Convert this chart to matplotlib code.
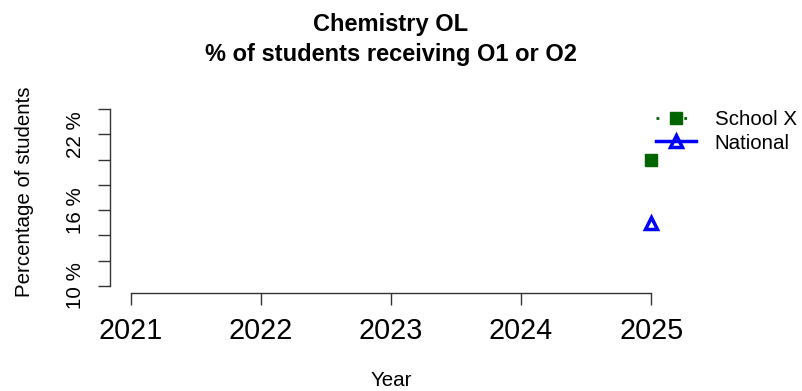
import matplotlib
matplotlib.use("Agg")
import matplotlib.pyplot as plt

plt.rcParams['font.family'] = ['Liberation Sans', 'DejaVu Sans']

years = [2021, 2022, 2023, 2024, 2025]
school_years = [2025]
school_values = [20.0]
national_years = [2025]
national_values = [15.0]
y_ticks = [10, 12, 14, 16, 18, 20, 22, 24]
y_ticklabels = ["10 %", "", "", "16 %", "", "", "22 %", ""]

fig = plt.figure(figsize=(8.03, 3.91), dpi=100)
ax = fig.add_axes([110/803, 1-293/391, (672-110)/803, (293-102)/391])

green = "#006400"
blue = "#0000FF"
ls, = ax.plot(school_years, school_values, linestyle=(0, (1, 4)), color=green, marker="s",
              markersize=8.5, lw=2, label="School X")
ln, = ax.plot(national_years, national_values, linestyle="-", color=blue, marker="^",
              markersize=9, markerfacecolor="none", markeredgewidth=2.5, lw=2.5, label="National")

ax.set_xlim(2021 - 0.16, 2025 + 0.16)
ax.set_ylim(10 - 0.56, 24 + 0.56)
for s in ["top", "right"]:
    ax.spines[s].set_visible(False)
ax.spines["left"].set_bounds(10, 24)
ax.spines["bottom"].set_bounds(2021, 2025)
for s in ["left", "bottom"]:
    ax.spines[s].set_color("#333333")
    ax.spines[s].set_linewidth(1.0)

ax.set_xticks(years)
ax.set_xticklabels([str(y) for y in years], fontsize=20.7)
ax.set_yticks(y_ticks)
ax.set_yticklabels(y_ticklabels, fontsize=14.8, rotation=90, va="center")
ax.tick_params(axis="x", length=8.8, width=1.0, color="#333333", pad=8.3)
ax.tick_params(axis="y", length=8.8, width=1.0, color="#333333", pad=9)

fig.text(391/803, 1 - 381/391, "Year", ha="center", va="center", fontsize=14.8)
fig.text(25/803, 1 - 192/391, "Percentage of students", rotation=90,
         ha="center", va="center", fontsize=14.8)
fig.text(391/803, 1 - 25/391, "Chemistry OL", ha="center", va="center",
         fontsize=17, fontweight="bold")
fig.text(391/803, 1 - 54/391, "% of students receiving O1 or O2", ha="center", va="center",
         fontsize=17, fontweight="bold")

fig.legend(handles=[ls, ln], loc="upper left", bbox_to_anchor=(656/803, 1 - 110/391),
           frameon=False, fontsize=14.8, handlelength=1.95, handletextpad=0.9,
           labelspacing=0.22, borderpad=0, borderaxespad=0)

fig.savefig("out.png", dpi=100)
